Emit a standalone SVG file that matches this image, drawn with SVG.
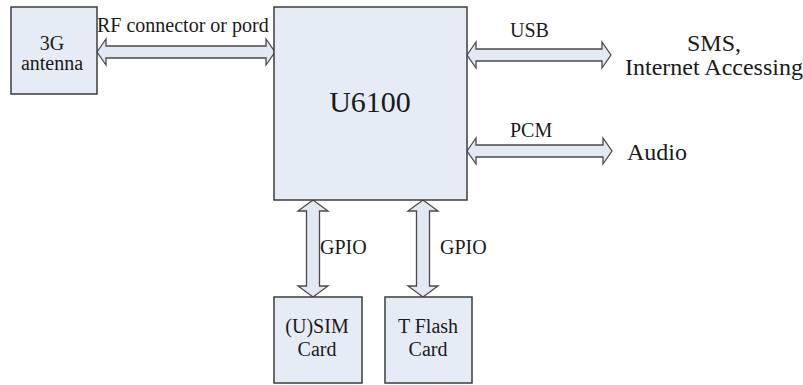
<svg xmlns="http://www.w3.org/2000/svg" width="803" height="385" viewBox="0 0 803 385" font-family="'Liberation Serif', 'Times New Roman', 'DejaVu Serif', serif">
<style>
.box{fill:#e6ecf6;stroke:#3c3c3c;stroke-width:1.5}
.arr{fill:#e2e9f3;stroke:#4a4a4a;stroke-width:1.3;stroke-linejoin:miter}
.lbl{font-size:20px;fill:#1a1a1a}
.big{font-size:24px;fill:#1a1a1a}
.mid{text-anchor:middle}
</style>
<rect width="803" height="385" fill="#ffffff"/>
<g id="connectors">
<path class="arr" d="M97,52 L106,39 L106,46 L266,46 L266,39 L275,52 L266,65 L266,58 L106,58 L106,65 Z"/>
<path class="arr" d="M467,55 L476,42 L476,49 L602,49 L602,42 L611,55 L602,68 L602,61 L476,61 L476,68 Z"/>
<path class="arr" d="M467,151 L476,138 L476,145 L603,145 L603,138 L612,151 L603,164 L603,157 L476,157 L476,164 Z"/>
<path class="arr" d="M313,200 L328,211 L319.5,211 L319.5,286 L328,286 L313,297 L298,286 L306.5,286 L306.5,211 L298,211 Z"/>
<path class="arr" d="M423,200 L438,211 L429.5,211 L429.5,286 L438,286 L423,297 L408,286 L416.5,286 L416.5,211 L408,211 Z"/>
<text class="lbl" x="97" y="32">RF connector or pord</text>
<text class="lbl" x="510" y="37">USB</text>
<text class="lbl" x="510" y="137">PCM</text>
<text class="lbl" x="320" y="254">GPIO</text>
<text class="lbl" x="440" y="254">GPIO</text>
</g>
<g id="antenna">
<rect class="box" x="11" y="7" width="86" height="87"/>
<text class="lbl mid" x="52" y="50">3G</text>
<text class="lbl mid" x="52" y="70">antenna</text>
</g>
<g id="u6100">
<rect class="box" x="274" y="7" width="193" height="193"/>
<text class="mid" x="370" y="112" font-size="30" fill="#1a1a1a">U6100</text>
</g>
<g id="sim">
<rect class="box" x="274" y="297" width="88" height="86"/>
<text class="lbl mid" x="317" y="333">(U)SIM</text>
<text class="lbl mid" x="317" y="356">Card</text>
</g>
<g id="tflash">
<rect class="box" x="385" y="297" width="87" height="86"/>
<text class="lbl mid" x="428" y="333">T Flash</text>
<text class="lbl mid" x="428" y="356">Card</text>
</g>
<g id="sms">
<text class="big mid" x="714" y="51">SMS,</text>
<text class="big mid" x="714" y="75">Internet Accessing</text>
</g>
<g id="audio">
<text class="big" x="627" y="160" font-size="23">Audio</text>
</g>
</svg>
